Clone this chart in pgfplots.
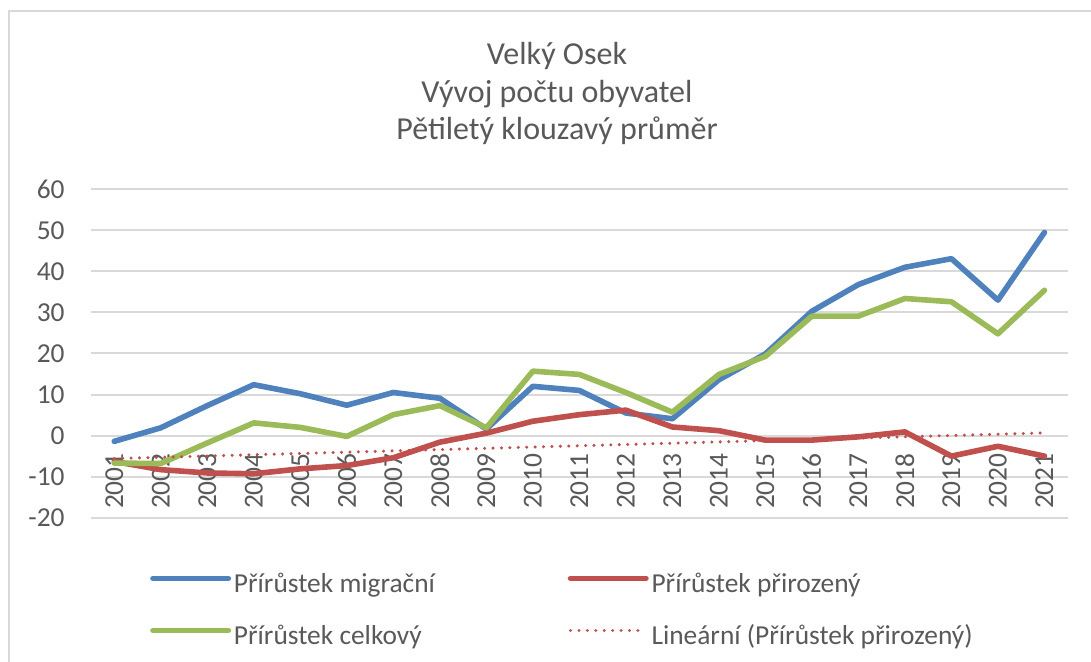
\documentclass[border=0pt]{standalone}
\usepackage{fontspec}
\setmainfont{Carlito}
\usepackage{pgfplots}
\pgfplotsset{compat=1.18}
\definecolor{cblue}{HTML}{4F81BD}
\definecolor{cred}{HTML}{C0504D}
\definecolor{cgreen}{HTML}{9BBB59}
\definecolor{ctext}{HTML}{595959}
\definecolor{cgrid}{HTML}{D9D9D9}
\begin{document}
\begin{tikzpicture}
\useasboundingbox (0,0) rectangle (545.5pt,-331pt);
\draw[cgrid, line width=1pt] (4.5pt,-331pt) -- (4.5pt,-5.5pt) -- (545.5pt,-5.5pt);
\node[font=\fontsize{16}{19}\selectfont, text=ctext, anchor=base] at (278.5pt,-32.5pt) {Velký Osek};
\node[font=\fontsize{16}{19}\selectfont, text=ctext, anchor=base] at (278.5pt,-51.5pt) {Vývoj počtu obyvatel};
\node[font=\fontsize{16}{19}\selectfont, text=ctext, anchor=base] at (278.5pt,-70pt) {Pětiletý klouzavý průměr};
\begin{axis}[
  at={(45.5pt,-94.65pt)}, anchor=north west,
  scale only axis, width=488.35pt, height=164.2pt,
  xmin=2000.5, xmax=2021.5, ymin=-20, ymax=60,
  ytick={-20,-10,...,60},
  xtick={2001,...,2021},
  /pgf/number format/assume math mode=true,
  /pgf/number format/1000 sep={},
  tick label style={font=\fontsize{13.7}{16}\selectfont, text=ctext},
  xticklabel style={yshift=32.35pt, rotate=90, anchor=east, inner sep=0pt},
  yticklabel style={anchor=east, inner sep=0pt, xshift=-13pt},
  axis line style={draw=none},
  major tick length=0pt,
  ymajorgrids, grid style={cgrid, line width=1pt},
  clip=false,
  legend columns=2,
  legend cell align=left,
  legend style={draw=none, fill=none, at={(0.0573,-0.153)}, anchor=north west, inner sep=0pt,
    font=\fontsize{13.7}{16}\selectfont, text=ctext,
    nodes={inner xsep=0pt, inner ysep=2pt, text height=10pt, text depth=3pt},
    row sep=9pt,
    /tikz/every odd column/.append style={column sep=0pt},
    /tikz/every even column/.append style={column sep=65pt}},
  legend image code/.code={\path (0pt,0pt) (40.5pt,0pt); \draw[#1] (1.4pt,3.5pt) -- (39.1pt,3.5pt);},
]
\addplot[cblue, line width=2.8pt, line cap=round, line join=round] coordinates {
(2001,-1.4) (2002,1.9) (2003,7.3) (2004,12.4) (2005,10.2) (2006,7.4) (2007,10.5)
(2008,9.1) (2009,1.6) (2010,12.0) (2011,11.0) (2012,5.5) (2013,4.1) (2014,13.6)
(2015,19.9) (2016,30.3) (2017,36.8) (2018,41.0) (2019,43.1) (2020,33.0) (2021,49.5)};
\addlegendentry{Přírůstek migrační}
\addplot[cred, line width=2.8pt, line cap=round, line join=round] coordinates {
(2001,-6.3) (2002,-8.3) (2003,-9.1) (2004,-9.3) (2005,-8.1) (2006,-7.3) (2007,-5.4)
(2008,-1.6) (2009,0.6) (2010,3.5) (2011,5.1) (2012,6.2) (2013,2.1) (2014,1.2)
(2015,-1.1) (2016,-1.1) (2017,-0.3) (2018,0.9) (2019,-5.0) (2020,-2.6) (2021,-5.0)};
\addlegendentry{Přírůstek přirozený}
\addplot[cgreen, line width=2.8pt, line cap=round, line join=round] coordinates {
(2001,-6.7) (2002,-6.8) (2003,-1.8) (2004,3.1) (2005,2.0) (2006,-0.2) (2007,5.1)
(2008,7.3) (2009,1.9) (2010,15.7) (2011,14.9) (2012,10.5) (2013,5.7) (2014,14.9)
(2015,19.3) (2016,29.1) (2017,29.1) (2018,33.4) (2019,32.6) (2020,24.8) (2021,35.4)};
\addlegendentry{Přírůstek celkový}
\addplot[cred, line width=1.7pt, line cap=round, dash pattern=on 0.01pt off 4.2pt] coordinates {
(2001,-5.6) (2021,0.65)};
\addlegendentry{Lineární (Přírůstek přirozený)}
\end{axis}
\end{tikzpicture}
\end{document}
